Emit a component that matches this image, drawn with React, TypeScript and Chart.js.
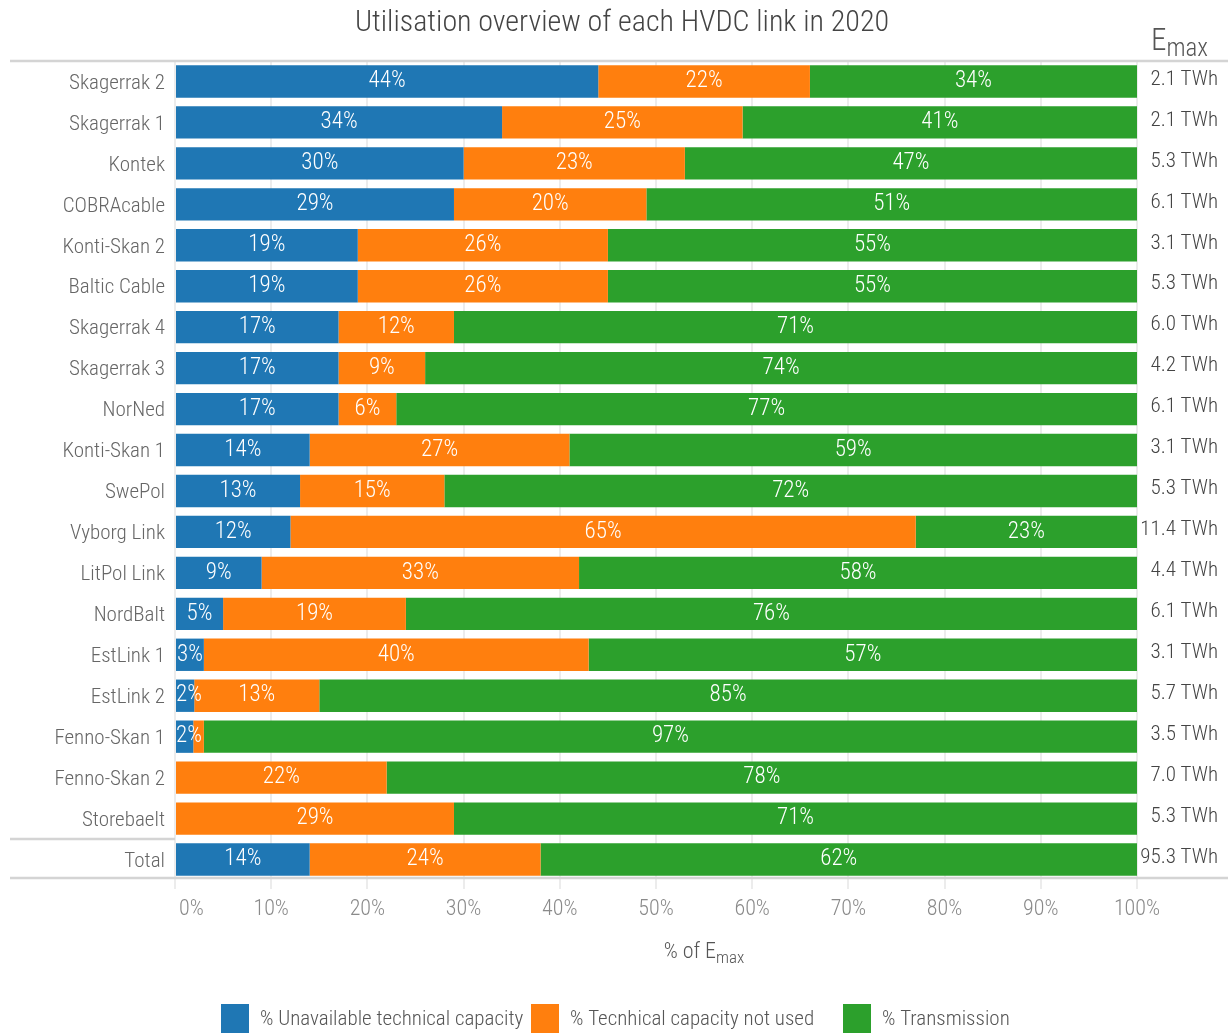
import React, { useEffect, useRef } from "react";
import { Chart, registerables } from "chart.js";

Chart.register(...registerables);

const categories = [
  "Skagerrak 2", "Skagerrak 1", "Kontek", "COBRAcable", "Konti-Skan 2", "Baltic Cable",
  "Skagerrak 4", "Skagerrak 3", "NorNed", "Konti-Skan 1", "SwePol", "Vyborg Link",
  "LitPol Link", "NordBalt", "EstLink 1", "EstLink 2", "Fenno-Skan 1", "Fenno-Skan 2",
  "Storebaelt", "Total",
];
const unavailable = [44, 34, 30, 29, 19, 19, 17, 17, 17, 14, 13, 12, 9, 5, 3, 2, 1.9, 0, 0, 14];
const notUsed = [22, 25, 23, 20, 26, 26, 12, 9, 6, 27, 15, 65, 33, 19, 40, 13, 1.1, 22, 29, 24];
const transmission = [34, 41, 47, 51, 55, 55, 71, 74, 77, 59, 72, 23, 58, 76, 57, 85, 97, 78, 71, 62];
const emaxTWh = [2.1, 2.1, 5.3, 6.1, 3.1, 5.3, 6.0, 4.2, 6.1, 3.1, 5.3, 11.4, 4.4, 6.1, 3.1, 5.7, 3.5, 7.0, 5.3, 95.3];
const seriesNames = ["% Unavailable technical capacity", "% Tecnhical capacity not used", "% Transmission"];
const seriesColors = ["#1f77b4", "#ff7f0e", "#2ca02c"];
const xTicks = [0, 10, 20, 30, 40, 50, 60, 70, 80, 90, 100];

const FONT = "'Roboto Condensed', 'Liberation Sans Narrow', Roboto, sans-serif";
const WT = "300";
const W = 1228;
const H = 1034;

const decorPlugin = {
  id: "decor",
  afterDatasetsDraw(chart: any) {
    const ctx = chart.ctx;
    const area = chart.chartArea;
    const yScale = chart.scales.y;
    const xScale = chart.scales.x;
    ctx.save();
    // separator lines
    ctx.strokeStyle = "#d4d4d4";
    ctx.lineWidth = 2.5;
    const topY = area.top;
    const botY = area.bottom - 2;
    const n = categories.length;
    const midY = (yScale.getPixelForValue(n - 2) + yScale.getPixelForValue(n - 1)) / 2;
    ctx.beginPath();
    ctx.moveTo(10, topY); ctx.lineTo(W, topY);
    ctx.moveTo(10, botY); ctx.lineTo(W, botY);
    ctx.moveTo(10, midY); ctx.lineTo(area.left, midY);
    ctx.stroke();

    // bar labels
    ctx.fillStyle = "#ffffff";
    ctx.font = `${WT} 23px ${FONT}`;
    ctx.textAlign = "center";
    ctx.textBaseline = "middle";
    chart.data.datasets.forEach((ds: any, di: number) => {
      const meta = chart.getDatasetMeta(di);
      meta.data.forEach((bar: any, i: number) => {
        const v = ds.data[i];
        if (Math.round(v) < 2) return;
        const label = `${Math.round(v)}%`;
        const w = ctx.measureText(label).width;
        let cx = (bar.x + bar.base) / 2;
        if (cx - w / 2 < area.left + 1) cx = area.left + 1 + w / 2;
        ctx.fillText(label, cx, bar.y);
      });
    });

    // Emax values
    ctx.fillStyle = "#444444";
    ctx.font = `${WT} 21px ${FONT}`;
    ctx.textAlign = "right";
    emaxTWh.forEach((v, i) => {
      ctx.fillText(`${v.toFixed(1)} TWh`, 1218, yScale.getPixelForValue(i) - 2);
    });

    // x tick labels
    ctx.fillStyle = "#8a8a8a";
    ctx.font = `${WT} 22px ${FONT}`;
    ctx.textAlign = "center";
    ctx.textBaseline = "middle";
    xTicks.forEach((v) => {
      const label = `${v}%`;
      let x = xScale.getPixelForValue(v);
      const w = ctx.measureText(label).width;
      if (x - w / 2 < area.left + 4) x = area.left + 4 + w / 2;
      ctx.fillText(label, x, area.bottom + 29);
    });

    // Emax header
    ctx.textAlign = "left";
    ctx.textBaseline = "alphabetic";
    ctx.fillStyle = "#555555";
    ctx.font = `${WT} 31px ${FONT}`;
    ctx.fillText("E", 1151, 50);
    const ew = ctx.measureText("E").width;
    ctx.font = `${WT} 25px ${FONT}`;
    ctx.fillText("max", 1151 + ew, 56);

    // title
    ctx.fillStyle = "#444444";
    ctx.font = `${WT} 30px ${FONT}`;
    ctx.textAlign = "center";
    ctx.textBaseline = "middle";
    ctx.fillText("Utilisation overview of each HVDC link in 2020", 622, 23);

    // x axis title
    ctx.textAlign = "left";
    ctx.textBaseline = "alphabetic";
    const part1 = "% of E";
    ctx.font = `${WT} 22px ${FONT}`;
    const w1 = ctx.measureText(part1).width;
    ctx.font = `${WT} 17px ${FONT}`;
    const w2 = ctx.measureText("max").width;
    const startX = 704 - (w1 + w2) / 2;
    ctx.fillStyle = "#555555";
    ctx.font = `${WT} 22px ${FONT}`;
    ctx.fillText(part1, startX, 958);
    ctx.font = `${WT} 17px ${FONT}`;
    ctx.fillText("max", startX + w1, 963);

    // legend
    const boxX = [221, 531, 843];
    ctx.font = `${WT} 21px ${FONT}`;
    ctx.textBaseline = "middle";
    seriesNames.forEach((name, i) => {
      ctx.fillStyle = seriesColors[i];
      ctx.fillRect(boxX[i], 1004, 28, 29);
      ctx.fillStyle = "#555555";
      ctx.fillText(name, boxX[i] + 39, 1020);
    });
    ctx.restore();
  },
};

export default function App() {
  const ref = useRef<HTMLCanvasElement | null>(null);
  useEffect(() => {
    if (!ref.current) return;
    Chart.defaults.font.family = FONT;
    const chart = new Chart(ref.current, {
      type: "bar",
      data: {
        labels: categories,
        datasets: [unavailable, notUsed, transmission].map((d, i) => ({
          label: seriesNames[i],
          data: d,
          backgroundColor: seriesColors[i],
          borderWidth: 0,
          barPercentage: 0.79,
          categoryPercentage: 1,
        })),
      },
      options: {
        indexAxis: "y",
        responsive: false,
        animation: false,
        devicePixelRatio: 1,
        layout: { padding: { left: 0, right: 91, top: 61, bottom: 104 } },
        plugins: {
          legend: { display: false },
          title: { display: false },
          tooltip: { enabled: false },
        },
        scales: {
          x: {
            stacked: true,
            min: 0,
            max: 100,
            afterBuildTicks: (scale: any) => {
              scale.ticks = xTicks.map((v) => ({ value: v }));
            },
            afterFit: (scale: any) => {
              scale.height = 50;
            },
            ticks: { display: false },
            grid: { color: "#ececec", lineWidth: 2, tickLength: 9, drawOnChartArea: true },
            border: { display: false },
          },
          y: {
            stacked: true,
            afterFit: (scale: any) => {
              scale.width = 175;
            },
            ticks: { color: "#666666", font: { size: 21, weight: WT }, padding: 10, labelOffset: 2 },
            grid: { display: false, drawTicks: false, tickLength: 0 },
            border: { display: false },
          },
        },
      },
      plugins: [decorPlugin],
    });
    return () => chart.destroy();
  }, []);
  return (
    <div style={{ position: "absolute", left: 0, top: 0, width: W, height: H, background: "#fff" }}>
      <canvas ref={ref} width={W} height={H} style={{ width: W, height: H, display: "block" }} />
    </div>
  );
}
